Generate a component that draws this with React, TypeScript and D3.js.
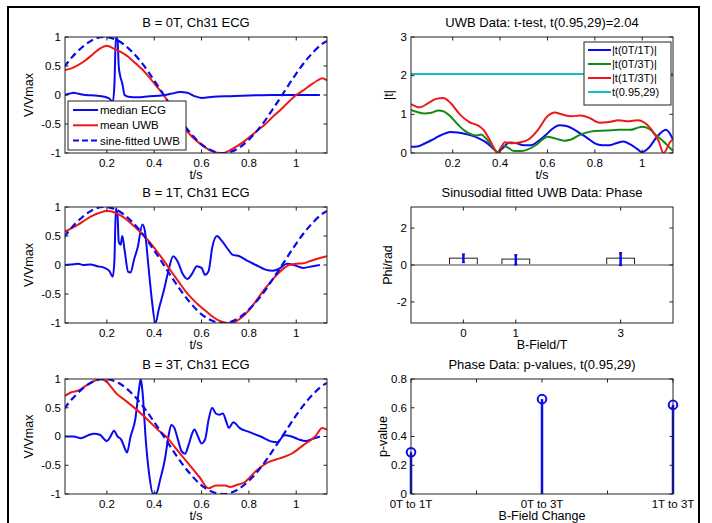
import { useRef, useEffect } from "react";
import * as d3 from "d3";

type Pt = [number, number];

// ---- data ----
const sineFit: Pt[] = [
  [0.02, 0.48], [0.05, 0.64], [0.1, 0.84], [0.15, 0.97], [0.2, 1.0], [0.25, 0.93],
  [0.3, 0.77], [0.35, 0.54], [0.4, 0.25], [0.45, -0.06], [0.5, -0.37], [0.55, -0.64],
  [0.6, -0.85], [0.65, -0.97], [0.7, -1.0], [0.75, -0.93], [0.8, -0.77], [0.85, -0.54],
  [0.9, -0.25], [0.95, 0.06], [1.0, 0.37], [1.05, 0.64], [1.1, 0.85], [1.13, 0.93],
];

const ecg0T: Pt[] = [
  [0.02, 0], [0.04, 0.02], [0.06, 0.04], [0.08, 0.02], [0.11, 0], [0.15, -0.01],
  [0.19, -0.03], [0.21, -0.06], [0.225, -0.12], [0.232, 0.2], [0.238, 1.0],
  [0.245, 0.95], [0.25, 0.5], [0.255, 0.35], [0.265, 0.2], [0.275, 0.0], [0.29, -0.03],
  [0.33, -0.04], [0.38, -0.02], [0.43, -0.01], [0.47, 0.02], [0.51, 0.05], [0.54, 0.04],
  [0.57, -0.02], [0.6, -0.05], [0.65, -0.03], [0.72, -0.02], [0.8, -0.01], [0.9, 0],
  [1.0, 0], [1.1, 0],
];
const uwb0T: Pt[] = [
  [0.02, 0.43], [0.05, 0.46], [0.08, 0.52], [0.11, 0.6], [0.14, 0.7], [0.17, 0.8],
  [0.2, 0.85], [0.23, 0.8], [0.26, 0.74], [0.29, 0.66], [0.32, 0.55], [0.35, 0.44],
  [0.38, 0.3], [0.41, 0.15], [0.44, 0.0], [0.47, -0.2], [0.5, -0.4], [0.53, -0.58],
  [0.56, -0.72], [0.6, -0.86], [0.63, -0.94], [0.66, -0.99], [0.69, -1.0], [0.72, -0.95],
  [0.75, -0.88], [0.78, -0.8], [0.81, -0.7], [0.84, -0.6], [0.87, -0.5], [0.9, -0.38],
  [0.93, -0.27], [0.96, -0.15], [1.0, 0.0], [1.03, 0.08], [1.06, 0.17], [1.09, 0.25],
  [1.11, 0.29], [1.13, 0.25],
];

const ecg1T: Pt[] = [
  [0.02, 0], [0.05, 0.01], [0.08, 0.02], [0.1, 0], [0.13, 0.01], [0.16, -0.02],
  [0.19, -0.05], [0.21, -0.1], [0.225, -0.2], [0.232, 0.1], [0.238, 0.98], [0.245, 0.85],
  [0.25, 0.4], [0.258, 0.35], [0.265, 0.5], [0.275, 0.25], [0.29, -0.12], [0.3, -0.13],
  [0.315, 0.1], [0.33, 0.3], [0.35, 0.7], [0.36, 0.6], [0.375, 0.0], [0.39, -0.6],
  [0.405, -1.0], [0.42, -0.75], [0.44, -0.45], [0.46, -0.1], [0.48, 0.15], [0.5, 0.05],
  [0.52, -0.15], [0.54, -0.24], [0.56, -0.15], [0.58, -0.02], [0.6, -0.05], [0.615, -0.17],
  [0.63, -0.1], [0.645, 0.3], [0.665, 0.5], [0.685, 0.42], [0.71, 0.28], [0.73, 0.18],
  [0.76, 0.15], [0.79, 0.08], [0.83, 0.0], [0.87, -0.08], [0.9, -0.1], [0.93, -0.06],
  [0.96, 0.02], [0.99, 0.0], [1.03, -0.05], [1.07, -0.02], [1.1, 0],
];
const uwb1T: Pt[] = [
  [0.02, 0.57], [0.05, 0.63], [0.08, 0.7], [0.11, 0.78], [0.14, 0.85], [0.17, 0.9],
  [0.2, 0.93], [0.23, 0.91], [0.26, 0.85], [0.29, 0.76], [0.32, 0.65], [0.35, 0.53],
  [0.38, 0.4], [0.41, 0.24], [0.44, 0.08], [0.47, -0.1], [0.5, -0.27], [0.53, -0.44],
  [0.56, -0.58], [0.59, -0.7], [0.62, -0.8], [0.65, -0.9], [0.68, -0.97], [0.71, -1.0],
  [0.74, -0.98], [0.77, -0.9], [0.8, -0.78], [0.83, -0.62], [0.86, -0.45], [0.89, -0.3],
  [0.92, -0.16], [0.95, -0.05], [0.97, 0.0], [1.0, 0.02], [1.03, 0.03], [1.06, 0.07],
  [1.1, 0.12], [1.13, 0.15],
];

const ecg3T: Pt[] = [
  [0.02, 0], [0.06, 0.0], [0.09, -0.03], [0.12, 0.02], [0.145, 0.05], [0.17, 0.03],
  [0.2, -0.08], [0.215, 0.0], [0.23, 0.1], [0.245, 0.0], [0.26, -0.05], [0.275, -0.2],
  [0.285, -0.28], [0.3, 0.0], [0.32, 0.3], [0.335, 0.8], [0.343, 1.0], [0.35, 0.8],
  [0.365, -0.1], [0.38, -0.7], [0.395, -1.0], [0.41, -0.98], [0.425, -0.75], [0.445, -0.4],
  [0.46, 0.0], [0.472, 0.2], [0.485, 0.15], [0.5, -0.05], [0.515, -0.25], [0.53, -0.3],
  [0.545, -0.15], [0.56, 0.05], [0.57, 0.12], [0.585, 0.0], [0.6, -0.12], [0.615, -0.05],
  [0.63, 0.3], [0.645, 0.5], [0.66, 0.4], [0.675, 0.38], [0.69, 0.4], [0.705, 0.25],
  [0.715, 0.15], [0.735, 0.25], [0.76, 0.15], [0.8, 0.08], [0.85, 0.0], [0.89, -0.08],
  [0.92, -0.1], [0.95, 0.02], [0.98, 0.0], [1.01, -0.05], [1.04, -0.08], [1.07, -0.04],
  [1.1, 0],
];
const uwb3T: Pt[] = [
  [0.02, 0.7], [0.05, 0.77], [0.08, 0.8], [0.11, 0.88], [0.14, 0.95], [0.17, 1.0],
  [0.2, 0.95], [0.22, 0.85], [0.24, 0.75], [0.28, 0.62], [0.33, 0.45], [0.37, 0.3],
  [0.42, 0.1], [0.45, 0.0], [0.49, -0.2], [0.54, -0.45], [0.59, -0.7], [0.63, -0.9],
  [0.66, -0.85], [0.7, -0.85], [0.72, -0.88], [0.75, -0.84], [0.78, -0.8], [0.83, -0.6],
  [0.88, -0.45], [0.93, -0.38], [0.98, -0.3], [1.03, -0.15], [1.08, 0.0], [1.11, 0.15],
  [1.13, 0.12],
];

const tt01: Pt[] = [
  [0.02, 0.16], [0.05, 0.17], [0.08, 0.24], [0.11, 0.33], [0.14, 0.43], [0.17, 0.51],
  [0.19, 0.54], [0.22, 0.53], [0.25, 0.5], [0.28, 0.45], [0.31, 0.38], [0.34, 0.28],
  [0.37, 0.12], [0.39, 0.02], [0.41, 0.12], [0.44, 0.27], [0.47, 0.25], [0.5, 0.2],
  [0.53, 0.2], [0.56, 0.3], [0.59, 0.45], [0.62, 0.62], [0.65, 0.72], [0.68, 0.7],
  [0.71, 0.62], [0.74, 0.5], [0.77, 0.38], [0.8, 0.25], [0.83, 0.2], [0.86, 0.2],
  [0.89, 0.25], [0.92, 0.3], [0.95, 0.22], [0.98, 0.1], [1.0, 0.02], [1.03, 0.15],
  [1.06, 0.4], [1.1, 0.6], [1.13, 0.35],
];
const tt03: Pt[] = [
  [0.02, 1.12], [0.05, 1.06], [0.08, 1.02], [0.11, 1.04], [0.14, 1.1], [0.16, 1.08],
  [0.19, 0.95], [0.22, 0.75], [0.25, 0.58], [0.28, 0.48], [0.3, 0.45], [0.32, 0.48],
  [0.34, 0.38], [0.37, 0.15], [0.39, 0.02], [0.41, 0.18], [0.43, 0.15], [0.46, 0.05],
  [0.49, 0.05], [0.52, 0.1], [0.55, 0.2], [0.58, 0.35], [0.6, 0.42], [0.63, 0.38],
  [0.67, 0.32], [0.7, 0.35], [0.73, 0.45], [0.76, 0.52], [0.8, 0.57], [0.85, 0.58],
  [0.9, 0.6], [0.95, 0.6], [0.98, 0.65], [1.0, 0.68], [1.03, 0.62], [1.06, 0.45],
  [1.09, 0.3], [1.13, 0.05],
];
const tt13: Pt[] = [
  [0.02, 1.28], [0.06, 1.18], [0.1, 1.3], [0.13, 1.4], [0.16, 1.42], [0.19, 1.3],
  [0.23, 1.0], [0.27, 0.8], [0.31, 0.7], [0.33, 0.6], [0.36, 0.3], [0.39, 0.0],
  [0.42, 0.28], [0.45, 0.25], [0.48, 0.27], [0.52, 0.35], [0.56, 0.6], [0.6, 0.95],
  [0.63, 1.05], [0.66, 1.0], [0.7, 0.95], [0.74, 0.97], [0.78, 0.9], [0.82, 0.78],
  [0.86, 0.8], [0.9, 0.85], [0.94, 0.82], [0.98, 0.85], [1.0, 0.82], [1.04, 0.6],
  [1.07, 0.3], [1.09, 0.0], [1.12, 0.3], [1.13, 0.35],
];
const tCrit = 2.04;

const ecgLegend = ["median ECG", "mean UWB", "sine-fitted UWB"];
const tLegend = ["|t(0T/1T)|", "|t(0T/3T)|", "|t(1T/3T)|", "t(0.95,29)"];

const phaseField = [0, 1, 3];
const phaseMean = [0.37, 0.32, 0.37];
const phaseLow = [0.14, 0.02, -0.02];
const phaseHigh = [0.59, 0.55, 0.66];

const pLabels = ["0T to 1T", "0T to 3T", "1T to 3T"];
const pValues = [0.29, 0.66, 0.62];

// ---- styling ----
const FONT = "Arial, 'Liberation Sans', Helvetica, sans-serif";
const BLUE = "#0a0aee";
const RED = "#ee1818";
const GREEN = "#158a15";
const CYAN = "#14c0c0";
const AXIS = "#222";
const TICK_FS = 11.5;
const LABEL_FS = 12.5;
const TITLE_FS = 13;

const LEFT: [number, number] = [65, 327];
const RIGHT: [number, number] = [411, 673];
const ROWS: [number, number][] = [[37, 153], [207, 323], [379, 494]];

type G = d3.Selection<SVGGElement, unknown, null, undefined>;

function drawBox(
  g: G,
  x: d3.ScaleLinear<number, number>,
  y: d3.ScaleLinear<number, number>,
  xTicks: number[],
  yTicks: number[],
  xFmt: (d: number, i: number) => string,
  yFmt: (d: number) => string,
  xLabelTicks?: number[]
) {
  const [x0, x1] = x.range();
  const [y1, y0] = y.range();
  const tl = 3.5;
  const ax = g.append("g");
  xTicks.forEach((d) => {
    ax.append("line").attr("x1", x(d)).attr("x2", x(d)).attr("y1", y1).attr("y2", y1 - tl)
      .attr("stroke", AXIS);
    ax.append("line").attr("x1", x(d)).attr("x2", x(d)).attr("y1", y0).attr("y2", y0 + tl)
      .attr("stroke", AXIS);
  });
  yTicks.forEach((d) => {
    ax.append("line").attr("x1", x0).attr("x2", x0 + tl).attr("y1", y(d)).attr("y2", y(d))
      .attr("stroke", AXIS);
    ax.append("line").attr("x1", x1).attr("x2", x1 - tl).attr("y1", y(d)).attr("y2", y(d))
      .attr("stroke", AXIS);
    ax.append("text").attr("x", x0 - 4).attr("y", y(d)).attr("dy", "0.33em")
      .attr("text-anchor", "end").attr("font-size", TICK_FS).attr("font-family", FONT)
      .text(yFmt(d));
  });
  (xLabelTicks ?? xTicks).forEach((d, i) => {
    ax.append("text").attr("x", x(d)).attr("y", y1 + 13.5)
      .attr("text-anchor", "middle").attr("font-size", TICK_FS).attr("font-family", FONT)
      .text(xFmt(d, i));
  });
  ax.append("rect").attr("x", x0).attr("y", y0).attr("width", x1 - x0).attr("height", y1 - y0)
    .attr("fill", "none").attr("stroke", AXIS).attr("stroke-width", 1);
}

function labels(svg: d3.Selection<SVGSVGElement, unknown, null, undefined>,
  xr: [number, number], yr: [number, number], title: string, xl: string, yl: string, ylx: number) {
  const cx = (xr[0] + xr[1]) / 2;
  svg.append("text").attr("x", cx).attr("y", yr[0] - 10).attr("text-anchor", "middle")
    .attr("font-size", TITLE_FS).attr("font-family", FONT).text(title);
  svg.append("text").attr("x", cx).attr("y", yr[1] + 26).attr("text-anchor", "middle")
    .attr("font-size", LABEL_FS).attr("font-family", FONT).text(xl);
  svg.append("text")
    .attr("transform", `translate(${ylx},${(yr[0] + yr[1]) / 2}) rotate(-90)`)
    .attr("text-anchor", "middle").attr("dy", "0.35em")
    .attr("font-size", LABEL_FS).attr("font-family", FONT).text(yl);
}

export default function App() {
  const svgRef = useRef<SVGSVGElement>(null);

  useEffect(() => {
    if (!svgRef.current) return;
    const svg = d3.select(svgRef.current);
    svg.selectAll("*").remove();

    svg.append("rect").attr("width", 712).attr("height", 523).attr("fill", "#fff");
    const defs = svg.append("defs");

    const clip = (id: string, xr: [number, number], yr: [number, number]) => {
      defs.append("clipPath").attr("id", id).append("rect")
        .attr("x", xr[0]).attr("y", yr[0]).attr("width", xr[1] - xr[0]).attr("height", yr[1] - yr[0]);
      return `url(#${id})`;
    };

    const tDomain: [number, number] = [0.023, 1.13];

    // ECG panels
    const ecgPanels = [
      { title: "B = 0T, Ch31 ECG", ecg: ecg0T, uwb: uwb0T, legend: true },
      { title: "B = 1T, Ch31 ECG", ecg: ecg1T, uwb: uwb1T, legend: false },
      { title: "B = 3T, Ch31 ECG", ecg: ecg3T, uwb: uwb3T, legend: false },
    ];
    ecgPanels.forEach((p, i) => {
      const yr = ROWS[i];
      const x = d3.scaleLinear().domain(tDomain).range(LEFT);
      const y = d3.scaleLinear().domain([-1, 1]).range([yr[1], yr[0]]);
      const g = svg.append("g");
      const plot = g.append("g").attr("clip-path", clip(`ecg${i}`, LEFT, yr));
      const line = d3.line<Pt>().x((d) => x(d[0])).y((d) => y(d[1])).curve(d3.curveMonotoneX);
      const sine = d3.line<Pt>().x((d) => x(d[0])).y((d) => y(d[1])).curve(d3.curveCardinal);
      plot.append("path").datum(p.ecg).attr("d", line).attr("fill", "none")
        .attr("stroke", BLUE).attr("stroke-width", 2);
      plot.append("path").datum(p.uwb).attr("d", line).attr("fill", "none")
        .attr("stroke", RED).attr("stroke-width", 2);
      plot.append("path").datum(sineFit).attr("d", sine).attr("fill", "none")
        .attr("stroke", BLUE).attr("stroke-width", 2.2).attr("stroke-dasharray", "7,4");
      drawBox(g, x, y, [0.2, 0.4, 0.6, 0.8, 1], [-1, -0.5, 0, 0.5, 1],
        (d) => String(d), (d) => String(d));
      labels(svg, LEFT, yr, p.title, "t/s", "V/Vmax", 29);

      if (p.legend) {
        const lg = g.append("g");
        lg.append("rect").attr("x", 68).attr("y", 101).attr("width", 118).attr("height", 49)
          .attr("fill", "#fff").attr("stroke", AXIS);
        const styles = [
          { c: BLUE, dash: null },
          { c: RED, dash: null },
          { c: BLUE, dash: "6,3" },
        ];
        ecgLegend.forEach((name, k) => {
          const ly = 110 + k * 15.3;
          lg.append("line").attr("x1", 73).attr("x2", 98).attr("y1", ly).attr("y2", ly)
            .attr("stroke", styles[k].c).attr("stroke-width", 2)
            .attr("stroke-dasharray", styles[k].dash);
          lg.append("text").attr("x", 100).attr("y", ly).attr("dy", "0.35em")
            .attr("font-size", 11.5).attr("font-family", FONT).text(name);
        });
      }
    });

    // t-test panel
    {
      const yr = ROWS[0];
      const x = d3.scaleLinear().domain([0.024, 1.13]).range(RIGHT);
      const y = d3.scaleLinear().domain([0, 3]).range([yr[1], yr[0]]);
      const g = svg.append("g");
      const plot = g.append("g").attr("clip-path", clip("tt", RIGHT, yr));
      const line = d3.line<Pt>().x((d) => x(d[0])).y((d) => y(d[1])).curve(d3.curveMonotoneX);
      const series = [
        { d: tt01, c: BLUE },
        { d: tt03, c: GREEN },
        { d: tt13, c: RED },
      ];
      series.forEach((s) => {
        plot.append("path").datum(s.d).attr("d", line).attr("fill", "none")
          .attr("stroke", s.c).attr("stroke-width", 2);
      });
      plot.append("line").attr("x1", x(0.024)).attr("x2", x(1.13))
        .attr("y1", y(tCrit)).attr("y2", y(tCrit)).attr("stroke", CYAN).attr("stroke-width", 2);
      drawBox(g, x, y, [0.2, 0.4, 0.6, 0.8, 1], [0, 1, 2, 3],
        (d) => String(d), (d) => String(d));
      labels(svg, RIGHT, yr, "UWB Data: t-test, t(0.95,29)=2.04", "t/s", "|t|", 389);

      const lg = g.append("g");
      lg.append("rect").attr("x", 584).attr("y", 42).attr("width", 87).attr("height", 63)
        .attr("fill", "#fff").attr("stroke", AXIS);
      const cols = [BLUE, GREEN, RED, CYAN];
      tLegend.forEach((name, k) => {
        const ly = 50 + k * 14;
        lg.append("line").attr("x1", 588).attr("x2", 611).attr("y1", ly).attr("y2", ly)
          .attr("stroke", cols[k]).attr("stroke-width", 2);
        lg.append("text").attr("x", 612).attr("y", ly).attr("dy", "0.35em")
          .attr("font-size", 11).attr("font-family", FONT).text(name);
      });
    }

    // Phase bar panel
    {
      const yr = ROWS[1];
      const x = d3.scaleLinear().domain([-1, 4]).range(RIGHT);
      const y = d3.scaleLinear().domain([-Math.PI, Math.PI]).range([yr[1], yr[0]]);
      const g = svg.append("g");
      const bw = 0.53;
      phaseField.forEach((f, k) => {
        g.append("rect").attr("x", x(f - bw / 2)).attr("y", y(phaseMean[k]))
          .attr("width", x(f + bw / 2) - x(f - bw / 2)).attr("height", y(0) - y(phaseMean[k]))
          .attr("fill", "#fff").attr("stroke", AXIS).attr("stroke-width", 1);
      });
      g.append("line").attr("x1", x(-1)).attr("x2", x(4)).attr("y1", y(0)).attr("y2", y(0))
        .attr("stroke", "#a0a0a0").attr("stroke-width", 2);
      phaseField.forEach((f, k) => {
        g.append("line").attr("x1", x(f)).attr("x2", x(f))
          .attr("y1", y(phaseLow[k])).attr("y2", y(phaseHigh[k]))
          .attr("stroke", BLUE).attr("stroke-width", 2.5);
        [phaseLow[k], phaseHigh[k]].forEach((v) => {
          g.append("line").attr("x1", x(f) - 1.5).attr("x2", x(f) + 1.5)
            .attr("y1", y(v)).attr("y2", y(v)).attr("stroke", BLUE).attr("stroke-width", 1.5);
        });
      });
      drawBox(g, x, y, phaseField, [-2, 0, 2], (d) => String(d), (d) => String(d));
      labels(svg, RIGHT, yr, "Sinusodial fitted UWB Data: Phase", "B-Field/T", "Phi/rad", 388);
    }

    // p-value stem panel
    {
      const yr = ROWS[2];
      const x = d3.scaleLinear().domain([1, 3]).range(RIGHT);
      const y = d3.scaleLinear().domain([0, 0.8]).range([yr[1], yr[0]]);
      const g = svg.append("g");
      pValues.forEach((v, k) => {
        const cx = x(k + 1);
        g.append("line").attr("x1", cx).attr("x2", cx).attr("y1", y(0)).attr("y2", y(v))
          .attr("stroke", BLUE).attr("stroke-width", 2.5);
      });
      drawBox(g, x, y, [1, 1.5, 2, 2.5, 3], [0, 0.2, 0.4, 0.6, 0.8],
        (_d, i) => pLabels[i], (d) => String(d), [1, 2, 3]);
      pValues.forEach((v, k) => {
        g.append("circle").attr("cx", x(k + 1)).attr("cy", y(v)).attr("r", 4.3)
          .attr("fill", "none").attr("stroke", BLUE).attr("stroke-width", 2);
      });
      labels(svg, RIGHT, yr, "Phase Data: p-values, t(0.95,29)", "B-Field Change", "p-value", 383);
    }

    // figure border
    svg.append("rect").attr("x", 8).attr("y", 7).attr("width", 691).attr("height", 530)
      .attr("fill", "none").attr("stroke", "#000").attr("stroke-width", 2);
  }, []);

  return (
    <svg
      ref={svgRef}
      width={712}
      height={523}
      style={{ position: "absolute", left: 0, top: 0, display: "block" }}
    />
  );
}
